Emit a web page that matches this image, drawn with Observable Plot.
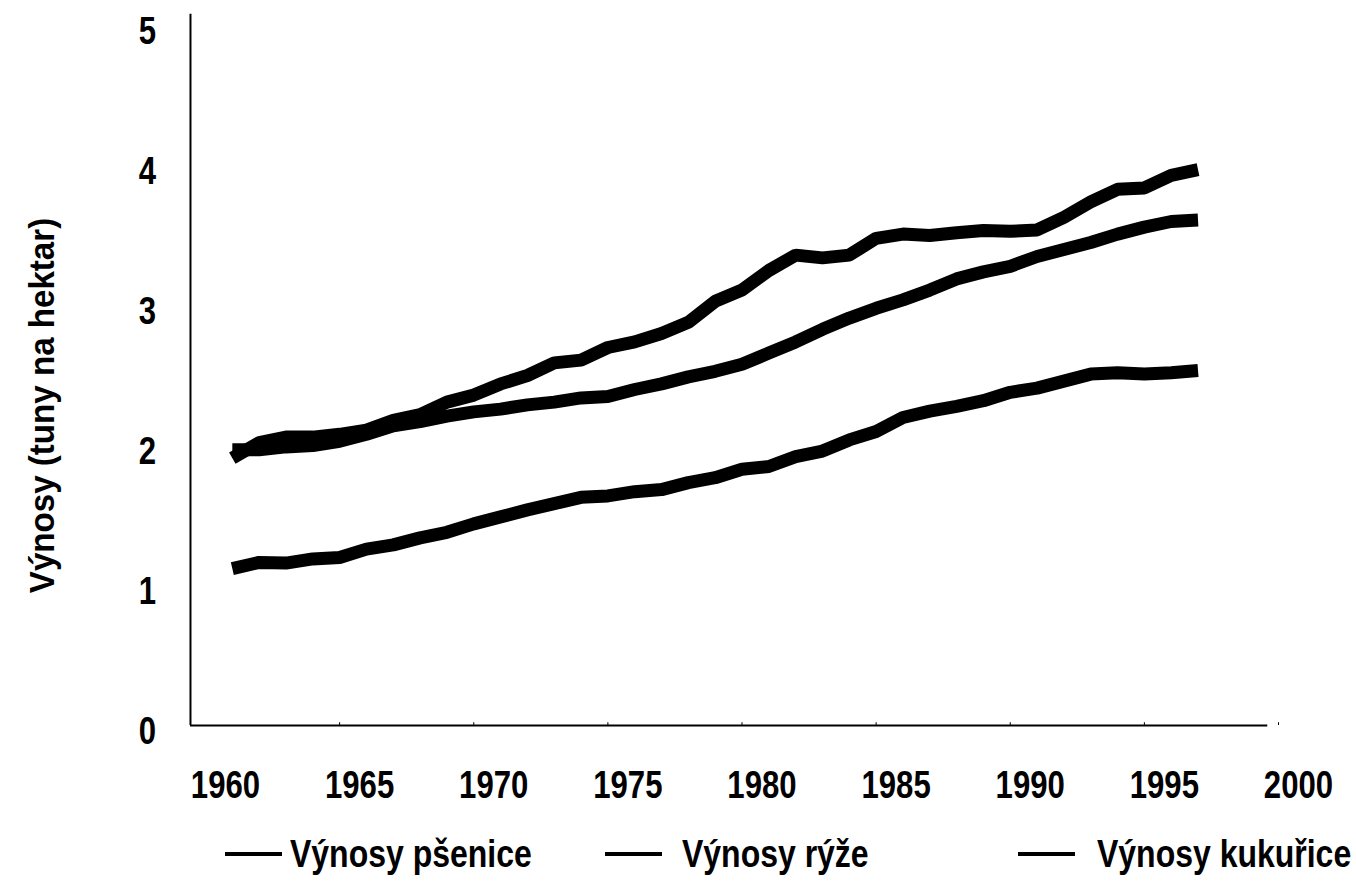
<!DOCTYPE html>
<html>
<head>
<meta charset="utf-8">
<script src="https://cdn.jsdelivr.net/npm/d3@7"></script>
<script src="https://cdn.jsdelivr.net/npm/@observablehq/plot@0.6"></script>
<style>
  html, body { margin: 0; padding: 0; background: #fff; }
  #wrap { position: relative; width: 1356px; height: 888px; overflow: hidden; }
  .lbl { font-family: "Liberation Sans Narrow", "Arial Narrow", "Liberation Sans", Arial, sans-serif; font-weight: bold; }
  #legend { position: absolute; left: 0; top: 820px; width: 1356px; height: 68px; }
  .item { position: absolute; top: 0; height: 68px; display: flex; align-items: center; }
  .swatch { width: 57px; height: 4px; background: #000; flex: none; }
  .item span { font-size: 39px; color: #000; display: inline-block; transform: scaleX(0.82); transform-origin: left center; white-space: nowrap; }
</style>
</head>
<body>
<div id="wrap">
  <div id="chart"></div>
  <div id="legend"></div>
</div>
<script>
const years = [1961,1962,1963,1964,1965,1966,1967,1968,1969,1970,1971,1972,1973,1974,1975,1976,1977,1978,1979,1980,1981,1982,1983,1984,1985,1986,1987,1988,1989,1990,1991,1992,1993,1994,1995,1996,1997];
const psenice = [1.12,1.165,1.16,1.19,1.20,1.26,1.29,1.34,1.38,1.44,1.49,1.54,1.585,1.63,1.64,1.67,1.685,1.735,1.77,1.83,1.85,1.92,1.96,2.04,2.10,2.20,2.245,2.28,2.32,2.38,2.41,2.46,2.51,2.52,2.51,2.52,2.535];
const ryze = [1.97,1.97,1.99,2.00,2.03,2.08,2.14,2.17,2.21,2.24,2.26,2.29,2.31,2.34,2.35,2.40,2.44,2.49,2.53,2.58,2.66,2.74,2.83,2.91,2.98,3.04,3.11,3.19,3.24,3.28,3.35,3.40,3.45,3.51,3.56,3.60,3.61];
const kukurice = [1.91,2.02,2.06,2.06,2.08,2.11,2.18,2.22,2.31,2.36,2.44,2.50,2.59,2.61,2.70,2.74,2.80,2.88,3.03,3.11,3.25,3.36,3.34,3.36,3.48,3.51,3.50,3.52,3.535,3.53,3.54,3.63,3.74,3.83,3.84,3.93,3.97];
const seriesNames = ["Výnosy pšenice", "Výnosy rýže", "Výnosy kukuřice"];
const xTicks = [1960,1965,1970,1975,1980,1985,1990,1995,2000];
const yTicks = [0,1,2,3,4,5];
const yTitle = "Výnosy (tuny na hektar)";

const seriesValues = [psenice, ryze, kukurice];
const rows = seriesNames.flatMap((name, i) => years.map((yr, j) => ({series: name, year: yr, value: seriesValues[i][j]})));

const axisX0 = 1959.44;   // where the vertical axis line sits
const axisXEnd = 1999.6;  // where the horizontal axis line ends
const axisYTop = 5.08;
const fontFam = '"Liberation Sans Narrow", "Arial Narrow", "Liberation Sans", Arial, sans-serif';

const chart = Plot.plot({
  width: 1356,
  height: 820,
  marginLeft: 205,
  marginRight: 78,
  marginTop: 25,
  marginBottom: 95,
  x: {domain: [1960, 2000], axis: null},
  y: {domain: [0, 5], axis: null},
  style: {fontFamily: fontFam, background: "#fff", overflow: "visible"},
  marks: [
    Plot.ruleX([axisX0], {y1: 0, y2: axisYTop, stroke: "#000", strokeWidth: 2}),
    Plot.ruleY([0], {x1: axisX0, x2: axisXEnd, stroke: "#000", strokeWidth: 2}),
    Plot.ruleX(xTicks.filter(d => d > 1960), {x: d => d, y1: 0, y2: 0.02, stroke: "#000", strokeWidth: 1}),
    Plot.line(rows, {x: "year", y: "value", z: "series", stroke: "#000", strokeWidth: 13, strokeLinejoin: "bevel", strokeLinecap: "butt", curve: "linear"}),
    Plot.text(xTicks, {x: d => d, y: 0, text: d => String(d), dx: 20, dy: 60, fontSize: 38, fontWeight: "bold", fill: "#000", textAnchor: "middle", className: "ticklbl"}),
    Plot.text(yTicks, {x: axisX0, y: d => d, text: d => String(d), dx: -43, dy: 6, fontSize: 38, fontWeight: "bold", fill: "#000", textAnchor: "middle", className: "ticklbl"}),
    Plot.text([yTitle], {x: axisX0, y: 2.5, text: d => d, dx: -148, dy: 30, rotate: -90, fontSize: 36, fontWeight: "bold", fill: "#000", textAnchor: "middle", className: "ytitle"})
  ]
});
document.getElementById("chart").appendChild(chart);

// condensed lettering like the reference's narrow bold face
d3.select(chart).selectAll("g.ticklbl text").attr("transform", function() {
  return (this.getAttribute("transform") || "") + " scale(0.82,1)";
});
d3.select(chart).selectAll("g.ytitle text").attr("transform", function() {
  return (this.getAttribute("transform") || "") + " scale(0.92,1)";
});

const legendPos = [{line: 225, text: 290}, {line: 605, text: 682}, {line: 1018, text: 1097}];
const legend = document.getElementById("legend");
seriesNames.forEach((name, i) => {
  const item = document.createElement("div");
  item.className = "item lbl";
  item.style.left = legendPos[i].line + "px";
  const sw = document.createElement("div");
  sw.className = "swatch";
  sw.style.marginRight = (legendPos[i].text - legendPos[i].line - 57) + "px";
  const sp = document.createElement("span");
  sp.textContent = name;
  item.appendChild(sw);
  item.appendChild(sp);
  legend.appendChild(item);
});
</script>
</body>
</html>
